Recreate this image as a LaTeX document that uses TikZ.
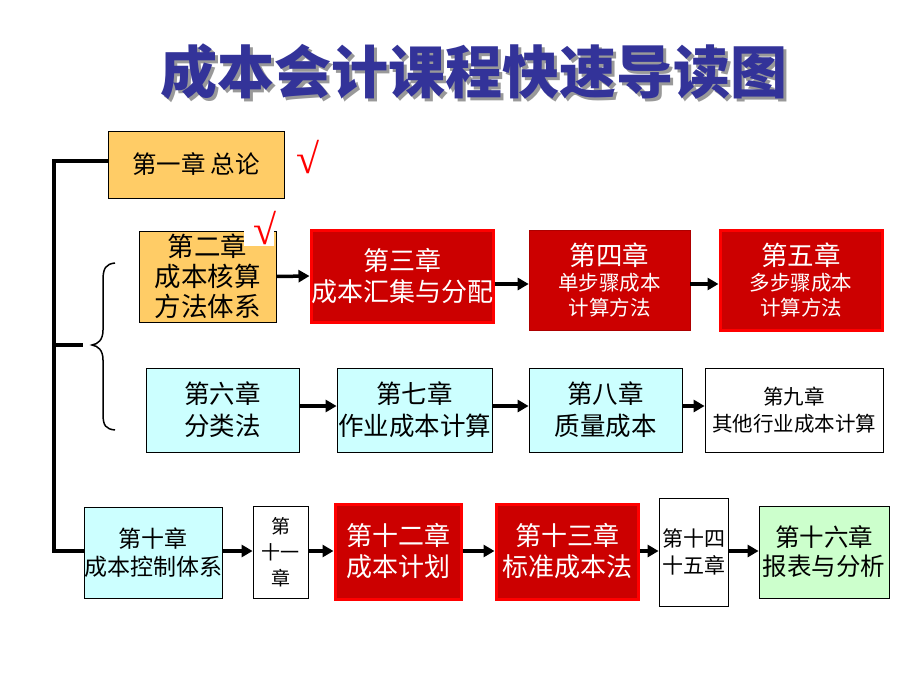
\documentclass[tikz,border=0pt]{standalone}
\usepackage{fontspec}
\setmainfont{Noto Sans CJK SC}
\newfontfamily\chkfont{Liberation Serif}
\usetikzlibrary{arrows.meta}
\definecolor{cOrange}{HTML}{FFCC66}
\definecolor{cCyan}{HTML}{CCFFFF}
\definecolor{cGreen}{HTML}{CCFFCC}
\definecolor{cRed}{HTML}{CC0000}
\definecolor{cBright}{HTML}{FF0000}
\definecolor{cTitle}{HTML}{333399}
\newcommand{\fsz}[2]{\fontsize{#1pt}{#2pt}\selectfont}
\begin{document}
\begin{tikzpicture}[x=1pt,y=-1pt,
  box/.style={draw=black, line width=0.8pt, inner sep=0pt, align=center, text=black},
  orangebox/.style={box, fill=cOrange},
  cyanbox/.style={box, fill=cCyan},
  whitebox/.style={box, fill=white},
  greenbox/.style={box, fill=cGreen},
  redbox/.style={box, fill=cRed, draw=cBright, line width=3pt, text=white},
  redplain/.style={box, fill=cRed, draw=cRed!85!black, line width=0.6pt, text=white},
  arr/.style={line width=3.5pt, -{Triangle[length=11pt,width=12pt]}},
  spine/.style={line width=3.5pt},
  chk/.style={text=red, font=\chkfont\fsz{42}{42}, inner sep=0pt}
]
\useasboundingbox (0,0) rectangle (920,690);
\fill[white] (0,0) rectangle (920,690);

% title
\node[text=black!40, font=\bfseries\fsz{57}{57}] (titleshadow) at (477,75) {成本会计课程快速导读图};
\node[text=cTitle, font=\bfseries\fsz{57}{57}] (title) at (474,72) {成本会计课程快速导读图};

% row 1
\node[orangebox, minimum width=176pt, minimum height=67pt, font=\fsz{24.5}{28}] (ch1) at (196,164.5) {第一章 总论};

% row 2
\node[orangebox, minimum width=137pt, minimum height=91pt, font=\fsz{26.5}{30}] (ch2) at (207.5,276.5) {第二章\\成本核算\\方法体系};
\node[redbox, minimum width=176pt, minimum height=92pt, font=\fsz{26}{31}] (ch3) at (402,276) {第三章\\成本汇集与分配};
\node[redplain, minimum width=161pt, minimum height=100pt, font=\fsz{20.5}{25}] (ch4) at (609.5,280) {{\fsz{26.5}{30}第四章}\\单步骤成本\\计算方法};
\node[redbox, minimum width=162pt, minimum height=100pt, font=\fsz{20.5}{25}] (ch5) at (801,280) {{\fsz{26.5}{30}第五章}\\多步骤成本\\计算方法};

% row 3
\node[cyanbox, minimum width=153pt, minimum height=84pt, font=\fsz{25.5}{32}] (ch6) at (222.5,410) {第六章\\分类法};
\node[cyanbox, minimum width=155pt, minimum height=84pt, font=\fsz{25.5}{32}] (ch7) at (414.5,410) {第七章\\作业成本计算};
\node[cyanbox, minimum width=153pt, minimum height=84pt, font=\fsz{25.5}{32}] (ch8) at (605.5,410) {第八章\\质量成本};
\node[whitebox, minimum width=178pt, minimum height=84pt, font=\fsz{20.5}{27}] (ch9) at (794,410) {第九章\\其他行业成本计算};

% row 4
\node[cyanbox, minimum width=138pt, minimum height=91pt, font=\fsz{23}{28}] (ch10) at (153,552.5) {第十章\\成本控制体系};
\node[whitebox, minimum width=55pt, minimum height=92pt, font=\fsz{19}{26}] (ch11) at (280.5,552) {第\\十一\\章};
\node[redbox, minimum width=126pt, minimum height=95pt, font=\fsz{26}{31}] (ch12) at (398,551.5) {第十二章\\成本计划};
\node[redbox, minimum width=142pt, minimum height=95pt, font=\fsz{26}{31}] (ch13) at (567,551.5) {第十三章\\标准成本法};
\node[whitebox, minimum width=69pt, minimum height=108pt, font=\fsz{21}{27}] (ch14) at (693.5,552) {第十四\\十五章};
\node[greenbox, minimum width=130pt, minimum height=92pt, font=\fsz{24.5}{29}] (ch16) at (824,552) {第十六章\\报表与分析};

% check marks
\node[chk] (chk1) at (308,157) {√};
\fill[white] (244,230) rectangle (274,246);
\node[chk] (chk2) at (265,228) {√};

% arrows
\draw[arr] (ch2.east) -- (ch3.west);
\draw[arr] (ch3.east |- 0,284) -- (ch4.west |- 0,284);
\draw[arr] (ch4.east |- 0,284) -- (ch5.west |- 0,284);
\draw[arr] (ch6.east |- 0,406) -- (ch7.west |- 0,406);
\draw[arr] (ch7.east |- 0,406) -- (ch8.west |- 0,406);
\draw[arr] (ch8.east |- 0,406) -- (ch9.west |- 0,406);
\draw[arr] (ch10.east |- 0,551) -- (ch11.west |- 0,551);
\draw[arr] (ch11.east |- 0,551) -- (ch12.west |- 0,551);
\draw[arr] (ch12.east |- 0,551) -- (ch13.west |- 0,551);
\draw[arr] (ch13.east |- 0,551) -- (ch14.west |- 0,551);
\draw[arr] (ch14.east |- 0,551) -- (ch16.west |- 0,551);

% left spine
\coordinate (sp) at (54,0);
\coordinate (bt) at (83,345);
\draw[spine] (ch1.west |- 0,161) -- (sp |- 0,161) -- (sp |- 0,551) -- (ch10.west |- 0,551);
\draw[spine] (sp |- bt) -- (bt);

% brace
\draw[line width=1.5pt] (115,263) .. controls (106,264) and (103,268) .. (103,280)
  -- (103,330) .. controls (103,340) and (98,344) .. (92,345)
  .. controls (98,346) and (103,350) .. (103,360)
  -- (103,414) .. controls (103,426) and (106,429) .. (115,430);
\end{tikzpicture}
\end{document}
